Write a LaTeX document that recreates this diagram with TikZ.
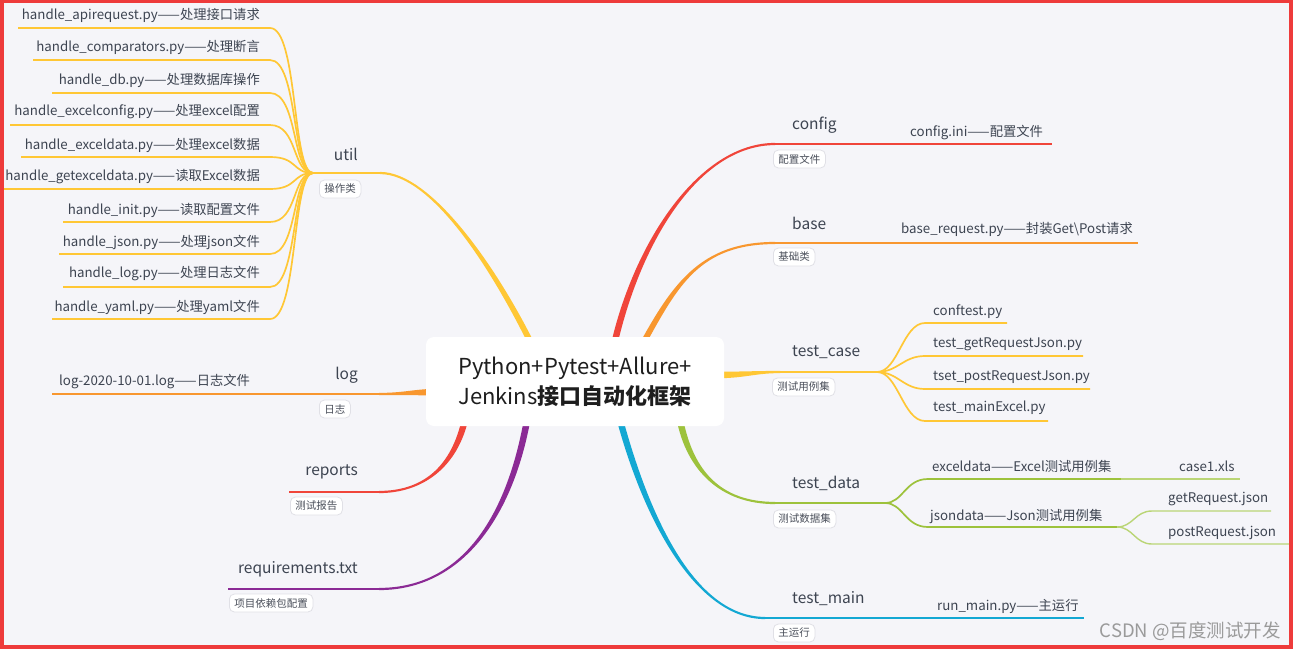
\documentclass[tikz,border=0pt]{standalone}
\usepackage{fontspec}
\setmainfont{Noto Sans CJK SC}
\usetikzlibrary{calc}
\definecolor{bg}{HTML}{F5F5F9}
\definecolor{frame}{HTML}{EE3B3B}
\definecolor{txt}{HTML}{3D4451}
\definecolor{roottxt}{HTML}{1E1E1E}
\definecolor{tagtxt}{HTML}{4A4F5A}
\definecolor{tagline}{HTML}{E0E0E6}
\definecolor{cred}{HTML}{F0453A}
\definecolor{corange}{HTML}{F8972F}
\definecolor{cyellow}{HTML}{FFC735}
\definecolor{cgreen}{HTML}{9DC23C}
\definecolor{cgreenl}{HTML}{BAD576}
\definecolor{cblue}{HTML}{13A8D3}
\definecolor{cpurple}{HTML}{8B2A95}
\definecolor{wmark}{HTML}{9A9A9A}
\def\wa{3.3}
\def\wb{1.1}
% tapered branch leaving the root vertically: #1 colour, #2 start, #3 c1, #4 c2, #5 end, #6 sign
\newcommand\vtaper[6]{%
  \fill[#1] ($(#2)+({-(#6)*\wa},0)$) .. controls ($(#3)+({-(#6)*\wa},0)$) and ($(#4)+(0,-\wb)$) .. ($(#5)+(0,-\wb)$)
    -- ($(#5)+(0,\wb)$) .. controls ($(#4)+(0,\wb)$) and ($(#3)+({(#6)*\wa},0)$) .. ($(#2)+({(#6)*\wa},0)$) -- cycle;}
% tapered branch leaving the root horizontally
\newcommand\htaper[5]{%
  \fill[#1] ($(#2)+(0,-\wa)$) .. controls ($(#3)+(0,-\wa)$) and ($(#4)+(0,-\wb)$) .. ($(#5)+(0,-\wb)$)
    -- ($(#5)+(0,\wb)$) .. controls ($(#4)+(0,\wb)$) and ($(#3)+(0,\wa)$) .. ($(#2)+(0,\wa)$) -- cycle;}
\begin{document}
\begin{tikzpicture}[x=1pt,y={(0pt,-1pt)},
  child/.style={font=\fontsize{13.3}{16}\selectfont, text=txt, inner sep=0pt},
  blabel/.style={font=\fontsize{15.5}{18}\selectfont, text=txt, inner sep=0pt},
  tag/.style={draw=tagline, line width=0.8pt, fill=white, rounded corners=5pt,
    font=\fontsize{10.5}{12}\selectfont, text=tagtxt, inner xsep=5pt, inner ysep=0pt, minimum height=18pt},
  root/.style={fill=white, rounded corners=8pt, minimum width=298pt, minimum height=89pt,
    inner sep=0pt, align=center, text=roottxt, font=\fontsize{22}{30}\selectfont},
  mainline/.style={line width=2.2pt},
  subline/.style={line width=1.7pt},
  leafline/.style={line width=1.4pt}]
\useasboundingbox (0,0) rectangle (1297,650);
\fill[white] (0,0) rectangle (1297,650);
\fill[bg] (2,2) rectangle (1291,647);

% ---------- anchor coordinates ----------
\coordinate (uS) at (532,345);  \coordinate (uE) at (380,173);  \coordinate (uF) at (313,173);
\coordinate (cS) at (614,345);  \coordinate (cE) at (775,144);  \coordinate (cM) at (908,144);  \coordinate (cT) at (1052,144);
\coordinate (bS) at (642,345);  \coordinate (bE) at (775,243);  \coordinate (bM) at (900,243);  \coordinate (bT) at (1138,243);
\coordinate (tcS) at (715,375); \coordinate (tcE) at (780,372); \coordinate (tcF) at (877,372);
\coordinate (tdS) at (680,420); \coordinate (tdE) at (775,503); \coordinate (tdF) at (885,503);
\coordinate (tmS) at (620,420); \coordinate (tmE) at (765,618); \coordinate (tmM) at (935,618); \coordinate (tmT) at (1084,618);
\coordinate (lS) at (440,392);  \coordinate (lE) at (379,394);  \coordinate (lM) at (275,394);  \coordinate (lT) at (52,394);
\coordinate (rS) at (466,415);  \coordinate (rE) at (379,492);  \coordinate (rT) at (289,492);
\coordinate (qS) at (528,415);  \coordinate (qE) at (379,589);  \coordinate (qT) at (228,589);

% ---------- main branches ----------
\vtaper{cyellow}{uS}{495,270}{432,173}{uE}{-1}
\draw[cyellow, mainline] (uE) -- (uF);
\vtaper{cred}{cS}{638,240}{700,144}{cE}{1}
\draw[cred, mainline] (cE) -- (cM);
\draw[cred, subline] (cM) -- (cT);
\vtaper{corange}{bS}{675,285}{700,243}{bE}{1}
\draw[corange, mainline] (bE) -- (bM);
\draw[corange, subline] (bM) -- (bT);
\htaper{cyellow}{tcS}{745,375}{755,372}{tcE}
\draw[cyellow, mainline] (tcE) -- (tcF);
\vtaper{cgreen}{tdS}{690,470}{720,503}{tdE}{-1}
\draw[cgreen, mainline] (tdE) -- (tdF);
\vtaper{cblue}{tmS}{650,530}{700,618}{tmE}{-1}
\draw[cblue, mainline] (tmE) -- (tmM);
\draw[cblue, subline] (tmM) -- (tmT);
\htaper{corange}{lS}{415,392}{405,394}{lE}
\draw[corange, mainline] (lE) -- (lM);
\draw[corange, subline] (lM) -- (lT);
\vtaper{cred}{rS}{455,470}{420,492}{rE}{1}
\draw[cred, mainline] (rE) -- (rT);
\vtaper{cpurple}{qS}{510,520}{460,589}{qE}{1}
\draw[cpurple, mainline] (qE) -- (qT);

% ---------- util children ----------
\foreach \i/\yl/\xs in {1/28/18, 2/60/33, 3/93/52, 4/125/10, 5/157/21, 6/189/4, 7/222/63, 8/254/59, 9/287/63, 10/319/52} {
  \coordinate (ul\i) at (\xs,\yl);
  \draw[cyellow, subline] (uF) .. controls (292,173) and (298,\yl) .. (270,\yl) -- (ul\i);
}
\node[child, anchor=east] (u1) at (260,15) {handle\_apirequest.py——处理接口请求};
\node[child, anchor=east] (u2) at (260,47) {handle\_comparators.py——处理断言};
\node[child, anchor=east] (u3) at (260,80) {handle\_db.py——处理数据库操作};
\node[child, anchor=east] (u4) at (260,112) {handle\_excelconfig.py——处理excel配置};
\node[child, anchor=east] (u5) at (260,145) {handle\_exceldata.py——处理excel数据};
\node[child, anchor=east] (u6) at (260,177) {handle\_getexceldata.py——读取Excel数据};
\node[child, anchor=east] (u7) at (260,210) {handle\_init.py——读取配置文件};
\node[child, anchor=east] (u8) at (260,242) {handle\_json.py——处理json文件};
\node[child, anchor=east] (u9) at (260,274) {handle\_log.py——处理日志文件};
\node[child, anchor=east] (u10) at (260,307) {handle\_yaml.py——处理yaml文件};

% ---------- test_case children ----------
\foreach \i/\yl/\xe in {1/323/1007, 2/356/1083, 3/389/1090, 4/421/1048} {
  \coordinate (tce\i) at (\xe,\yl);
  \draw[cyellow, subline] (tcF) .. controls (898,372) and (903,\yl) .. (925,\yl) -- (tce\i);
}
\node[child, anchor=west] (tc1) at (933,312) {conftest.py};
\node[child, anchor=west] (tc2) at (933,344) {test\_getRequestJson.py};
\node[child, anchor=west] (tc3) at (933,377) {tset\_postRequestJson.py};
\node[child, anchor=west] (tc4) at (933,408) {test\_mainExcel.py};

% ---------- test_data children ----------
\coordinate (exE) at (1121,479); \coordinate (caseE) at (1240,479);
\coordinate (jF) at (1117,527);
\coordinate (grE) at (1271,511); \coordinate (prE) at (1289,544);
\draw[cgreen, subline] (tdF) .. controls (903,503) and (905,479) .. (928,479) -- (exE);
\draw[cgreenl, leafline] (exE) -- (caseE);
\draw[cgreen, subline] (tdF) .. controls (903,503) and (905,527) .. (928,527) -- (jF);
\draw[cgreenl, leafline] (jF) .. controls (1133,527) and (1135,511) .. (1152,511) -- (grE);
\draw[cgreenl, leafline] (jF) .. controls (1133,527) and (1135,544) .. (1152,544) -- (prE);
\node[child, anchor=west] (ex) at (932,466) {exceldata——Excel测试用例集};
\node[child, anchor=west] (js) at (930,516) {jsondata——Json测试用例集};
\node[child, anchor=west] (case1) at (1179,466) {case1.xls};
\node[child, anchor=west] (getr) at (1168,499) {getRequest.json};
\node[child, anchor=west] (postr) at (1168,533) {postRequest.json};

% ---------- other children ----------
\node[child, anchor=west] (cini) at (910,133) {config.ini——配置文件};
\node[child, anchor=west] (breq) at (901,229) {base\_request.py——封装Get\textbackslash Post请求};
\node[child, anchor=west] (runm) at (937,606) {run\_main.py——主运行};
\node[child, anchor=west] (logf) at (59,382) {log-2020-10-01.log——日志文件};

% ---------- branch labels ----------
\node[blabel, anchor=east] (util) at (358,154) {util};
\node[blabel, anchor=east] (log) at (358,375) {log};
\node[blabel, anchor=east] (reports) at (358,472) {reports};
\node[blabel, anchor=east] (req) at (358,569) {requirements.txt};
\node[blabel, anchor=west] (config) at (792,125) {config};
\node[blabel, anchor=west] (base) at (792,223) {base};
\node[blabel, anchor=west] (tcase) at (792,352) {test\_case};
\node[blabel, anchor=west] (tdata) at (792,483) {test\_data};
\node[blabel, anchor=west] (tmain) at (792,599) {test\_main};

% ---------- tags ----------
\node[tag, anchor=west] (tgutil) at (319,189) {操作类};
\node[tag, anchor=west] (tglog) at (319,409) {日志};
\node[tag, anchor=west] (tgrep) at (290,506) {测试报告};
\node[tag, anchor=west] (tgreq) at (229,603) {项目依赖包配置};
\node[tag, anchor=west] (tgcfg) at (773,159) {配置文件};
\node[tag, anchor=west] (tgbase) at (773,257) {基础类};
\node[tag, anchor=west] (tgtc) at (772,387) {测试用例集};
\node[tag, anchor=west] (tgtd) at (773,519) {测试数据集};
\node[tag, anchor=west] (tgtm) at (773,633) {主运行};

% ---------- root ----------
\node[root] (root) at (575,381.5) {Python+Pytest+Allure+\\Jenkins\textbf{接口自动化框架}};

% ---------- watermark ----------
\node[font=\fontsize{18.5}{22}\selectfont, text=wmark, anchor=east, inner sep=0pt] (wm) at (1281,631) {CSDN @百度测试开发};

\draw[frame, line width=4pt] (2,1.5) rectangle (1291,647);
\end{tikzpicture}
\end{document}
